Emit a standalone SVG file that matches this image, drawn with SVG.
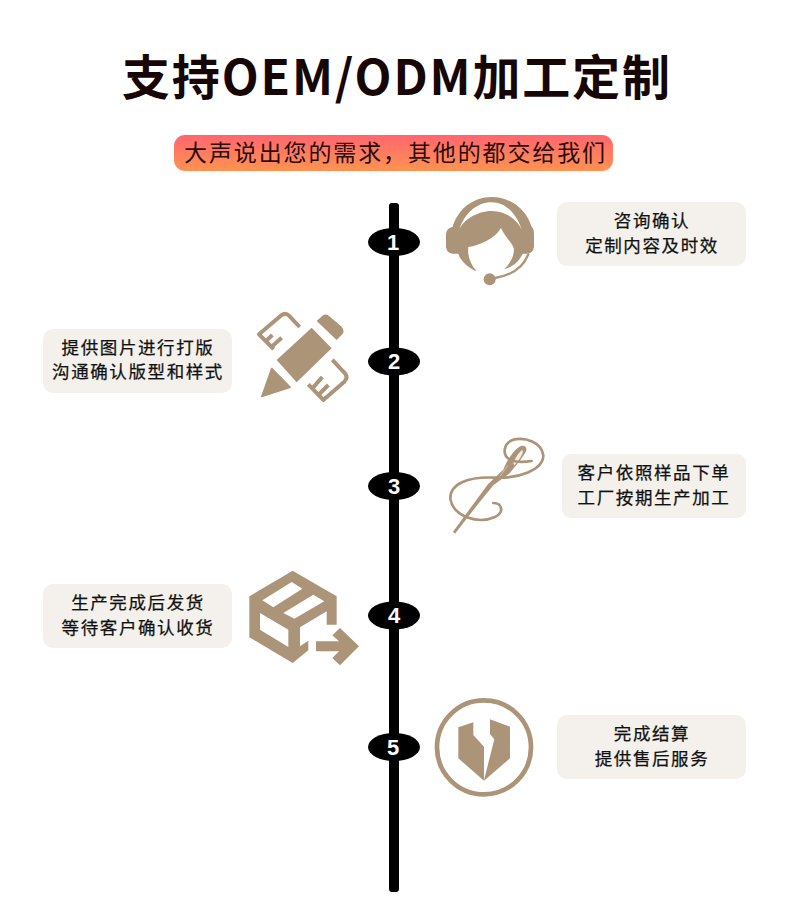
<svg xmlns="http://www.w3.org/2000/svg" width="790" height="900" viewBox="0 0 790 900">
<style>
.cjk{font-family:"Noto Sans CJK SC","Noto Sans",sans-serif}
.card{fill:#f4f1ec}
.lbl{font-size:17.500px;letter-spacing:1.600px;fill:#111;text-anchor:middle;stroke:#111;stroke-width:.25}
.dot{fill:#000}
.num{font-family:"Liberation Sans",Arial,sans-serif;font-weight:700;font-size:22px;fill:#fff;text-anchor:middle}
.tan{fill:#ac9478}
.line{fill:none;stroke:#ac9478;stroke-linecap:round;stroke-linejoin:round}
</style>
<defs><linearGradient id="pg" x1="0" y1="0" x2="0" y2="1"><stop offset="0" stop-color="#ff666f"/><stop offset="1" stop-color="#ff9350"/></linearGradient></defs>
<rect width="790" height="900" fill="#fff"/>
<g id="title"><text class="cjk" x="122" y="95" font-size="48" font-weight="700" fill="#160606" textLength="548" lengthAdjust="spacing">支持OEM/ODM加工定制</text></g>
<g id="subtitle"><rect x="174" y="135" width="439" height="36" rx="11" fill="url(#pg)"/>
<text class="cjk" x="184" y="161" font-size="23" fill="#2a0c0c" textLength="421" lengthAdjust="spacing">大声说出您的需求，其他的都交给我们</text></g>
<g id="connectors"><rect x="389" y="203" width="10" height="689" rx="3" fill="#000"/></g>

<g id="step1">
<ellipse class="dot" cx="394" cy="242" rx="26" ry="14"/><text class="num" x="393" y="250">1</text>
<g transform="translate(440 192) scale(.3333)">
<path class="tan" fill-rule="evenodd" d="M18,125 Q20,108 38,104 C55,50 100,15 155,15 C210,15 258,50 275,104 Q282,110 282,125 V165 Q280,183 262,185 H248 C240,205 220,225 192,232 C210,215 222,195 222,170 C215,150 195,135 183,108 C165,140 120,160 85,165 C82,190 90,215 110,238 C85,228 60,205 55,185 H38 Q20,183 18,165Z M58,112 C70,85 110,57 155,57 C200,57 232,85 245,112 C228,62 195,31 155,31 C112,31 75,62 58,112Z"/>
<path class="line" stroke-width="7" d="M265,187 C250,225 215,250 165,258"/>
<circle class="tan" cx="149" cy="262" r="18"/>
</g>
<rect class="card" x="557" y="202" width="189" height="64" rx="10"/>
<text class="cjk lbl" x="652" y="227">咨询确认</text><text class="cjk lbl" x="652" y="252">定制内容及时效</text>
</g>

<g id="step2">
<ellipse class="dot" cx="394" cy="361.500" rx="26" ry="14"/><text class="num" x="394" y="369">2</text>
<g transform="translate(255 305) scale(.3333)">
<path class="tan" d="M65,165 L170,68 L230,130 L125,232Z"/>
<path class="tan" d="M185,48 L205,30 Q215,25 225,35 L260,65 Q270,78 262,88 L245,105Z"/>
<path class="tan" stroke="#ac9478" stroke-width="4" stroke-linejoin="round" d="M20,275 L50,190 L106,247Z"/>
<g class="line" stroke-width="12"><path stroke-linecap="butt" d="M134,66 L102,32 Q92,22 80,30 L12,88 L56,132"/><path stroke-linecap="butt" d="M33,108 L52,90 M50,125 L80,98"/>
<path stroke-linecap="butt" d="M232,165 L270,205 Q280,218 268,230 L205,285 L160,238"/><path stroke-linecap="butt" d="M172,250 L202,216 M190,270 L220,240"/></g>
</g>
<rect class="card" x="43" y="329" width="189" height="64" rx="10"/>
<text class="cjk lbl" x="138" y="354">提供图片进行打版</text><text class="cjk lbl" x="138" y="378">沟通确认版型和样式</text>
</g>

<g id="step3">
<ellipse class="dot" cx="394" cy="486" rx="26" ry="14"/><text class="num" x="394" y="494">3</text>
<g transform="translate(445 437) scale(.3333)">
<path class="tan" d="M24,284 L30,290 L100,200 L145,145 L195,108 C205,95 240,55 244,40 C246,25 232,24 222,30 C205,42 185,70 175,98 L130,140Z"/>
<path d="M206,78 C212,62 224,44 232,40 C236,48 222,68 208,84Z M188,86 L165,118" fill="#fff" stroke="#fff" stroke-width="1.500" opacity=".85"/>
<path class="line" stroke-width="8" d="M145,198 C170,198 180,225 150,240 C100,262 25,240 16,185 C15,140 70,118 150,122 C220,125 295,100 295,55 C290,15 240,0 205,8 C175,18 170,55 195,68 C215,78 240,75 260,72"/>
</g>
<rect class="card" x="562" y="454" width="184" height="64" rx="9"/>
<text class="cjk lbl" x="654" y="479">客户依照样品下单</text><text class="cjk lbl" x="654" y="504">工厂按期生产加工</text>
</g>

<g id="step4">
<ellipse class="dot" cx="394" cy="615.500" rx="26" ry="14"/><text class="num" x="394" y="623">4</text>
<g transform="translate(245 568) scale(.3333)">
<path class="tan" fill-rule="evenodd" d="M143,8 L275,85 V170 H245 V130 L165,178 V235 L190,218 V247 L143,285 L13,208 V85Z M52,97 L85,118 L172,62 L140,42Z M115,135 L148,152 L238,100 L205,80Z M45,135 V185 L130,237 V185Z"/>
<path class="tan" d="M285,180 L342,235 L285,292 L262,270 L282,250 H213 V220 H282 L262,202Z"/>
</g>
<rect class="card" x="43" y="584" width="189" height="64" rx="10"/>
<text class="cjk lbl" x="138" y="609">生产完成后发货</text><text class="cjk lbl" x="138" y="634">等待客户确认收货</text>
</g>

<g id="step5">
<ellipse class="dot" cx="394" cy="747" rx="26" ry="14"/><text class="num" x="393" y="755">5</text>
<g transform="translate(360 690) scale(.3333)">
<circle cx="372" cy="172" r="141" fill="none" stroke="#ac9478" stroke-width="14"/>
<path class="tan" d="M295,112 L340,97 V135 L372,170 V272 L295,205Z"/>
<path class="tan" d="M390,88 L450,110 V205 L372,272 L376,255 L403,148 L390,132Z"/>
</g>
<rect class="card" x="557" y="715" width="189" height="64" rx="10"/>
<text class="cjk lbl" x="652" y="740">完成结算</text><text class="cjk lbl" x="652" y="765">提供售后服务</text>
</g>
</svg>
